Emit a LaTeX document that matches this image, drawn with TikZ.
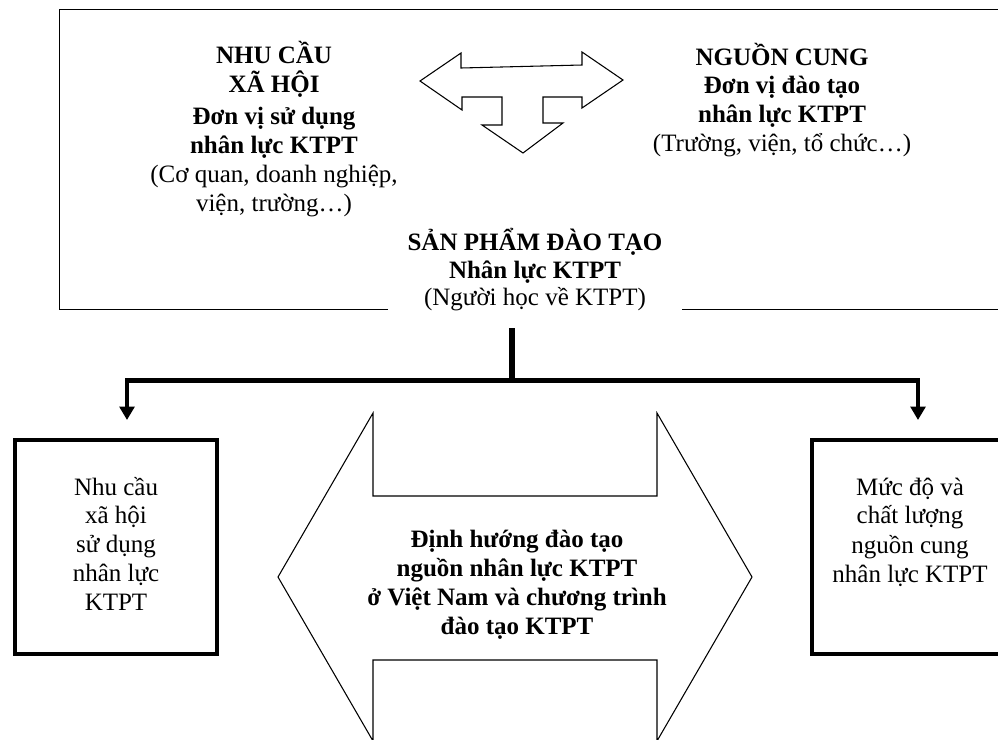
\documentclass[tikz,border=0pt]{standalone}
\usepackage{fontspec}
\setmainfont{Liberation Serif}
\usetikzlibrary{arrows.meta}
\tikzset{
  bt/.style={font=\fontsize{18.75pt}{22pt}\selectfont\bfseries, anchor=base, inner sep=0pt},
  nt/.style={font=\fontsize{18.75pt}{22pt}\selectfont, anchor=base, inner sep=0pt},
  outline/.style={draw, line width=0.8pt, line join=miter},
  frameline/.style={draw, line width=1pt},
  heavybox/.style={draw, line width=3pt, minimum width=151.7pt, minimum height=160.6pt, inner sep=0pt},
  flow/.style={line width=3.2pt, line join=miter, -{Triangle[width=11pt,length=10pt]}},
  stemline/.style={line width=4pt}
}
\begin{document}
\begin{tikzpicture}[x=0.75pt,y=-0.75pt]
\useasboundingbox (0,0) rectangle (998,739);
\clip (0,0) rectangle (998,739);

% top frame (open at the bottom around the product text)
\coordinate (fbl) at (59.5,309.5);
\coordinate (fgl) at (388,309.5);
\coordinate (fgr) at (682,309.5);
\coordinate (fbr) at (1010,309.5);
\draw[frameline] (fgl) -- (fbl) |- (1010,9.5) -- (fbr) -- (fgr);

% three-way arrow in the frame
\draw[outline] (420,81) -- (461,53) -- (461,68) -- (582,65) -- (582,52) -- (623,80)
  -- (582,108) -- (582,97) -- (543,97) -- (543,123) -- (563,123) -- (523,153)
  -- (482,125) -- (502,125) -- (502,97) -- (462,97) -- (462,110) -- cycle;

% texts in the frame
\node[bt] (d1) at (274,63) {NHU CẦU};
\node[bt] (d2) at (274,92) {XÃ HỘI};
\node[bt] (d3) at (274,124) {Đơn vị sử dụng};
\node[bt] (d4) at (274,153) {nhân lực KTPT};
\node[nt] (d5) at (274,182) {(Cơ quan, doanh nghiệp,};
\node[nt] (d6) at (274,211) {viện, trường…)};

\node[bt] (s1) at (782,65) {NGUỒN CUNG};
\node[bt] (s2) at (782,93) {Đơn vị đào tạo};
\node[bt] (s3) at (782,122) {nhân lực KTPT};
\node[nt] (s4) at (782,151) {(Trường, viện, tổ chức…)};

\node[bt] (p1) at (535,250) {SẢN PHẨM ĐÀO TẠO};
\node[bt] (p2) at (535,278) {Nhân lực KTPT};
\node[nt] (p3) at (535,305) {(Người học về KTPT)};

% connectors
\coordinate (stemtop) at (512,328);
\coordinate (junction) at (512,380.5);
\coordinate (la) at (127,420);
\coordinate (ra) at (918,420);
\draw[stemline] (stemtop) -- (junction);
\draw[flow] (junction) -| (la);
\draw[flow] (junction) -| (ra);

% lower boxes
\node[heavybox] (lbox) at (115.85,546.75) {};
\node[heavybox] (rbox) at (913.2,547.2) {};

\node[nt] (l1) at (116,495) {Nhu cầu};
\node[nt] (l2) at (116,523) {xã hội};
\node[nt] (l3) at (116,552) {sử dụng};
\node[nt] (l4) at (116,581) {nhân lực};
\node[nt] (l5) at (116,610) {KTPT};

\node[nt] (r1) at (910,495) {Mức độ và};
\node[nt] (r2) at (910,523) {chất lượng};
\node[nt] (r3) at (910,553) {nguồn cung};
\node[nt] (r4) at (910,582) {nhân lực KTPT};

% big double arrow
\draw[outline] (278,577) -- (373,413) -- (373,496) -- (657,496) -- (657,413) -- (752,577)
  -- (657,741) -- (657,660) -- (373,660) -- (373,741) -- cycle;

\node[bt] (c1) at (517,547) {Định hướng đào tạo};
\node[bt] (c2) at (517,576) {nguồn nhân lực KTPT};
\node[bt] (c3) at (517,605) {ở Việt Nam và chương trình};
\node[bt] (c4) at (517,634) {đào tạo KTPT};
\end{tikzpicture}
\end{document}
